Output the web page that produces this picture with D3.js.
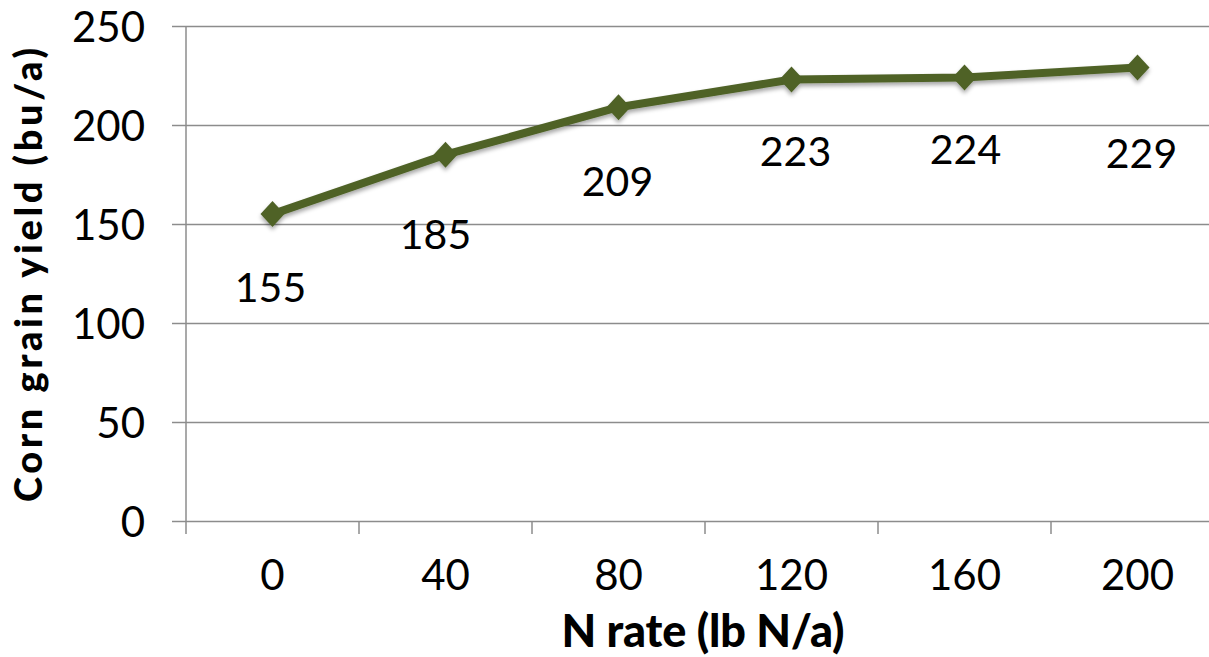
<!DOCTYPE html>
<html>
<head>
<meta charset="utf-8">
<script src="https://cdn.jsdelivr.net/npm/d3@7"></script>
<style>
  html, body { margin: 0; padding: 0; background: #fff; }
  svg { display: block; }
  text { font-family: Lato, "Open Sans", sans-serif; fill: #000; }
</style>
</head>
<body>
<svg id="chart" width="1209" height="657"></svg>
<script>
// N application rate (lb N/a) and the resulting corn grain yield (bu/a)
const nRates = ["0", "40", "80", "120", "160", "200"];
const yields = [155, 185, 209, 223, 224, 229];
const yTicks = [0, 50, 100, 150, 200, 250];

const W = 1209, H = 657;
const plot = { left: 186, top: 26, bottom: 521, band: 173 };
const lineColor = "#4F6228";
const gridColor = "#8c8c8c";

const svg = d3.select("#chart");

const x = d3.scaleBand()
  .domain(nRates)
  .range([plot.left, plot.left + plot.band * nRates.length])
  .paddingInner(0).paddingOuter(0);

const y = d3.scaleLinear()
  .domain([0, 250])
  .range([plot.bottom, plot.top]);

// soft shadow under the series
const defs = svg.append("defs");
const f = defs.append("filter").attr("id", "shadow")
  .attr("x", "-20%").attr("y", "-20%").attr("width", "140%").attr("height", "160%");
f.append("feDropShadow").attr("dx", 0).attr("dy", 3).attr("stdDeviation", 2.2)
  .attr("flood-color", "#000").attr("flood-opacity", 0.35);

// horizontal gridlines with short ticks left of the value axis
const yAxis = d3.axisLeft(y).tickValues(yTicks).tickSize(14).tickPadding(27).tickFormat(d3.format("d"));
const gY = svg.append("g").attr("transform", `translate(${plot.left},0)`).call(yAxis);
gY.select(".domain").remove();
gY.selectAll(".tick line").attr("stroke", gridColor).attr("stroke-width", 1.5);
gY.selectAll(".tick").append("line")
  .attr("x1", 0).attr("x2", W - plot.left)
  .attr("stroke", gridColor).attr("stroke-width", 1.5);
gY.selectAll(".tick text").style("font-size", "42px").attr("dy", "0.36em");

// vertical axis line
svg.append("line")
  .attr("x1", plot.left).attr("x2", plot.left)
  .attr("y1", y(250)).attr("y2", plot.bottom + 13)
  .attr("stroke", gridColor).attr("stroke-width", 1.5);

// category axis: ticks at band boundaries, labels centred in bands
const gX = svg.append("g").attr("transform", `translate(0,${plot.bottom})`);
gX.selectAll("line.bound")
  .data(nRates.slice(1))
  .join("line").attr("class", "bound")
  .attr("x1", d => x(d)).attr("x2", d => x(d))
  .attr("y1", 0).attr("y2", 13)
  .attr("stroke", gridColor).attr("stroke-width", 1.5);
gX.selectAll("text")
  .data(nRates)
  .join("text")
  .attr("x", d => x(d) + x.bandwidth() / 2)
  .attr("y", 69)
  .attr("text-anchor", "middle")
  .style("font-size", "42px")
  .text(d => d);

// yield line and diamond markers
const pts = nRates.map((r, i) => ({ r, v: yields[i] }));
const cx = d => x(d.r) + x.bandwidth() / 2;
const series = svg.append("g").attr("filter", "url(#shadow)");
series.append("path")
  .datum(pts)
  .attr("d", d3.line().x(cx).y(d => y(d.v)))
  .attr("fill", "none")
  .attr("stroke", lineColor)
  .attr("stroke-width", 8)
  .attr("stroke-linejoin", "round");
series.selectAll("path.marker")
  .data(pts)
  .join("path").attr("class", "marker")
  .attr("transform", d => `translate(${cx(d)},${y(d.v)})`)
  .attr("d", "M0,-13L12,0L0,13L-12,0Z")
  .attr("fill", lineColor);

// value labels set below each marker
const labelDrop = [88, 94, 89, 87, 87, 100];
const labelShift = [-2, -10, -1, 4, 1, 4];
svg.selectAll("text.val")
  .data(pts)
  .join("text").attr("class", "val")
  .attr("x", (d, i) => cx(d) + labelShift[i])
  .attr("y", (d, i) => y(d.v) + labelDrop[i])
  .attr("text-anchor", "middle")
  .style("font-size", "41px")
  .text(d => d.v);

// axis titles
svg.append("text")
  .attr("x", 703).attr("y", 647)
  .attr("text-anchor", "middle")
  .attr("textLength", 283).attr("lengthAdjust", "spacing")
  .style("font-size", "45px").style("font-weight", 900)
  .text("N rate (lb N/a)");

svg.append("text")
  .attr("transform", "translate(42,275) rotate(-90)")
  .attr("text-anchor", "middle")
  .attr("textLength", 454).attr("lengthAdjust", "spacing")
  .style("font-size", "38px").style("font-weight", 900)
  .text("Corn grain yield (bu/a)");
</script>
</body>
</html>
